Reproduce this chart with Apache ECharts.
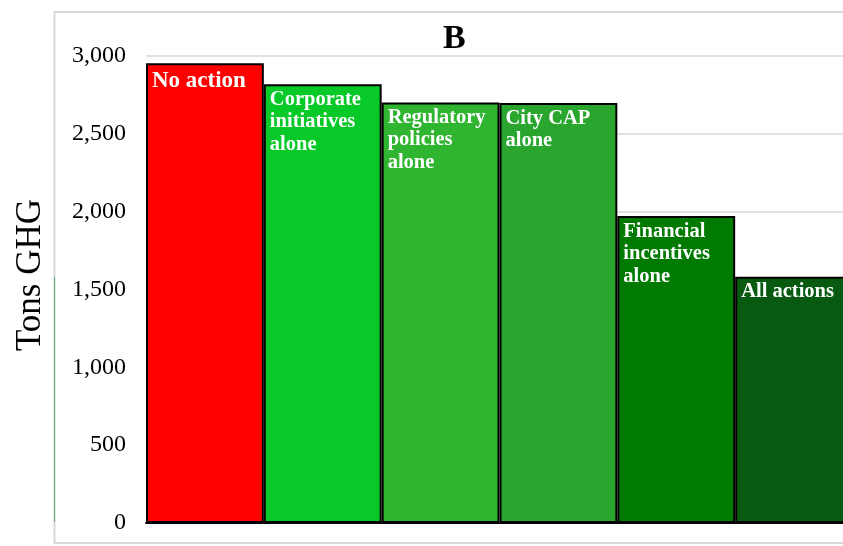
<!DOCTYPE html>
<html>
<head>
<meta charset="utf-8">
<style>
html,body{margin:0;padding:0;background:#fff;overflow:hidden;}
#chart{width:843px;height:546px;}
</style>
<script src="https://cdn.jsdelivr.net/npm/echarts@6/dist/echarts.min.js"></script>
</head>
<body>
<div id="chart"></div>
<script>
var categories = ['No action', 'Corporate\ninitiatives\nalone', 'Regulatory\npolicies\nalone', 'City CAP\nalone', 'Financial\nincentives\nalone', 'All actions'];
var values = [2953, 2818, 2702, 2698, 1972, 1582];
var barColors = ['#ff0000', '#07c927', '#2fb52f', '#2aa52e', '#007a00', '#085a10'];
var yTicks = [0, 500, 1000, 1500, 2000, 2500, 3000];

var serif = '"Liberation Serif", "Times New Roman", serif';
var chart = echarts.init(document.getElementById('chart'));

var data = values.map(function (v, i) {
  var item = { value: v, itemStyle: { color: barColors[i] } };
  if (i === 0) {
    item.label = { fontSize: 23, distance: 6, offset: [0, 0] };
  }
  return item;
});

chart.setOption({
  animation: false,
  backgroundColor: '#fff',
  title: {
    text: 'B',
    left: 438,
    top: 17,
    textStyle: { fontFamily: serif, fontWeight: 'bold', fontSize: 34, color: '#000' }
  },
  graphic: [
    {
      type: 'rect',
      shape: { x: 54.5, y: 12, width: 800, height: 531 },
      style: { fill: 'none', stroke: '#d9d9d9', lineWidth: 2 },
      z: -1
    },
    {
      type: 'line',
      shape: { x1: 54.5, y1: 277, x2: 54.5, y2: 522 },
      style: { stroke: '#6aa878', lineWidth: 1 },
      z: 0
    }
  ],
  grid: { left: 146, width: 707, top: 56, bottom: 23, containLabel: false, outerBoundsMode: 'none' },
  xAxis: {
    type: 'category',
    data: categories,
    axisLine: { show: true, lineStyle: { color: '#000', width: 2 } },
    axisTick: { show: false },
    axisLabel: { show: false }
  },
  yAxis: {
    type: 'value',
    min: 0,
    max: 3000,
    interval: 500,
    name: 'Tons GHG',
    nameLocation: 'middle',
    nameGap: 98,
    nameTextStyle: { fontFamily: serif, fontSize: 35, color: '#000', padding: [0, 0, 0, 29] },
    axisLine: { show: false },
    axisTick: { show: false },
    axisLabel: {
      margin: 20,
      fontFamily: serif,
      fontSize: 24,
      color: '#000',
      formatter: function (v) { return yTicks.indexOf(v) >= 0 ? v.toLocaleString('en-US') : ''; }
    },
    splitLine: { show: true, lineStyle: { color: '#d9d9d9', width: 1.5 } }
  },
  series: [{
    type: 'bar',
    data: data,
    barCategoryGap: '0%',
    itemStyle: { borderColor: '#000', borderWidth: 2 },
    label: {
      show: true,
      position: 'insideTopLeft',
      distance: 6,
      offset: [0, -2],
      formatter: function (p) { return p.name; },
      fontFamily: serif,
      fontWeight: 'bold',
      fontSize: 20.5,
      lineHeight: 22.5,
      color: '#fff'
    }
  }]
});
</script>
</body>
</html>
